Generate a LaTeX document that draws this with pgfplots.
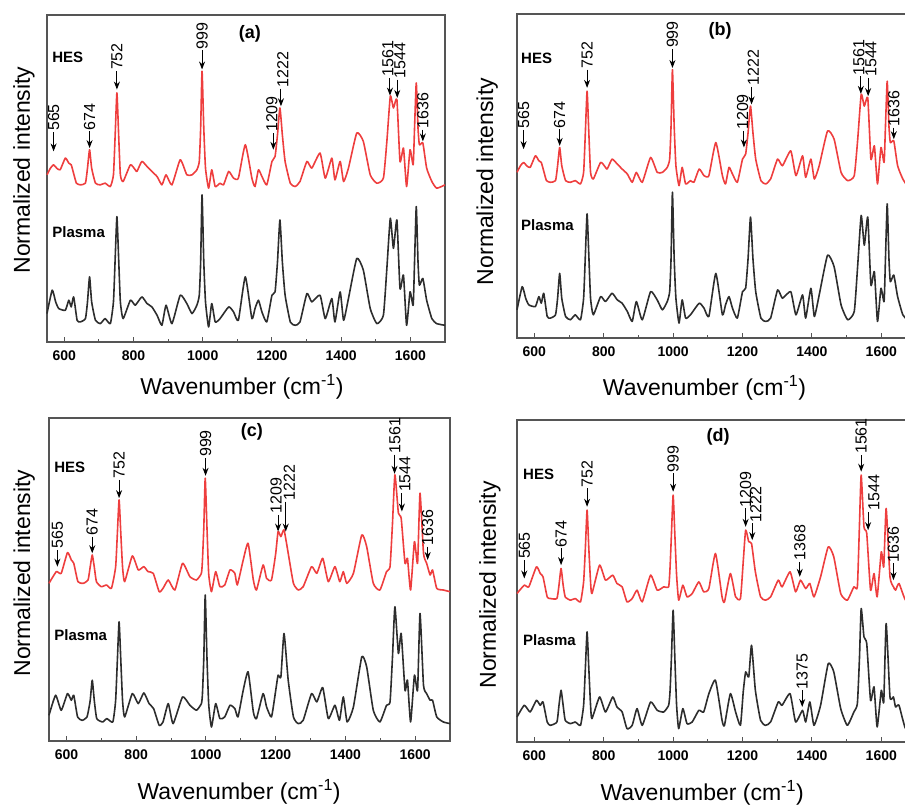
\documentclass[border=0pt]{standalone}
\usepackage{pgfplots}
\pgfplotsset{compat=1.18}
\usepackage{pgfplotstable}
\usepackage{fontspec}
\setmainfont{Liberation Sans}
\usetikzlibrary{arrows.meta}

\definecolor{hesred}{RGB}{238,62,62}
\definecolor{plgray}{RGB}{45,45,45}
\definecolor{framegray}{RGB}{85,85,85}

% HES and plasma spectra, panels (a) and (b)
\pgfplotstableread{
x y
550 500
560 520
569 530
578 520
588 515
603 550
613 535
620 530
628 500
635 475
646 470
661 475
667 520
673 575
679 520
690 475
704 470
718 475
733 465
742 500
747 620
752 745
757 620
762 500
770 480
791 530
805 515
810 510
824 540
839 525
853 510
868 495
882 470
894 500
911 470
935 545
954 500
969 500
983 515
990 540
994 640
998 810
1003 640
1008 520
1017 460
1026 515
1036 465
1050 475
1060 470
1075 510
1089 490
1103 490
1123 590
1142 490
1151 465
1161 515
1171 495
1185 470
1200 540
1209 555
1216 620
1223 700
1230 620
1238 540
1253 475
1267 465
1281 480
1301 540
1315 520
1339 565
1354 490
1373 550
1382 485
1397 540
1407 480
1421 520
1445 625
1464 600
1484 500
1503 475
1522 490
1532 600
1542 735
1551 700
1561 725
1570 540
1580 580
1589 465
1599 575
1608 530
1612 640
1617 775
1622 640
1626 590
1636 595
1647 520
1662 480
1676 460
1700 470
}\hesA
\pgfplotstableread{
x y
550 85
565 155
575 120
584 100
603 95
613 125
620 105
627 135
637 65
646 60
661 70
667 120
673 195
679 120
690 65
704 55
718 70
733 55
742 120
747 250
752 375
757 250
762 120
770 70
791 125
805 110
824 135
839 115
853 105
868 80
882 50
894 110
911 55
935 140
954 115
969 85
983 110
990 140
994 240
998 440
1003 240
1008 120
1017 45
1026 115
1036 60
1050 70
1075 105
1089 90
1103 65
1123 195
1142 70
1151 100
1161 125
1171 90
1185 60
1200 140
1209 150
1216 240
1223 365
1230 240
1238 140
1253 60
1267 50
1281 60
1301 145
1315 120
1339 140
1354 70
1373 130
1382 60
1397 150
1407 65
1421 130
1445 250
1464 215
1484 100
1503 55
1522 80
1532 220
1542 370
1551 280
1561 365
1570 160
1580 200
1589 50
1599 150
1608 110
1612 240
1617 405
1622 240
1626 170
1636 190
1647 125
1662 70
1676 55
1700 50
}\plA

% panel (c)
\pgfplotstableread{
x y
550 472
571 507
585 502
603 564
614 542
621 532
633 477
648 472
662 482
668 520
674 557
680 520
686 477
700 462
715 467
729 457
741 520
746 620
751 722
756 620
761 520
767 477
789 554
806 512
822 522
834 507
849 502
866 447
877 457
892 482
911 452
933 532
954 492
973 482
987 502
990 540
994 640
998 787
1003 640
1008 500
1016 447
1028 507
1040 462
1054 467
1069 512
1083 502
1090 467
1107 542
1121 592
1136 482
1145 452
1164 527
1174 487
1188 482
1200 560
1207 627
1215 612
1224 632
1236 562
1251 472
1265 452
1279 462
1303 522
1318 502
1335 547
1351 477
1370 522
1384 477
1394 507
1404 472
1423 502
1447 617
1461 582
1480 472
1499 452
1518 507
1528 522
1535 650
1542 797
1552 682
1560 667
1571 532
1578 547
1587 452
1598 597
1607 532
1614 742
1624 562
1633 532
1643 497
1650 512
1662 457
1681 452
1700 447
}\hesC
\pgfplotstableread{
x y
550 77
569 137
585 92
603 142
614 122
621 137
632 72
645 62
659 72
668 120
674 182
680 120
687 67
704 57
716 67
733 57
741 120
746 240
751 357
756 240
761 120
767 72
789 142
806 112
822 144
837 112
850 97
866 47
877 57
892 112
906 52
933 132
954 107
973 92
987 112
990 140
994 250
998 437
1003 250
1008 110
1016 42
1028 112
1040 67
1054 72
1069 107
1083 97
1092 72
1107 152
1121 207
1136 87
1145 67
1164 142
1174 102
1188 72
1200 150
1207 197
1215 192
1224 322
1236 182
1251 72
1265 52
1279 62
1303 142
1318 117
1335 160
1351 67
1370 107
1383 62
1394 132
1405 57
1423 102
1447 252
1461 222
1480 92
1499 57
1518 107
1528 117
1535 250
1542 402
1552 262
1560 322
1571 152
1578 182
1587 57
1598 197
1607 152
1614 382
1624 167
1633 142
1643 122
1650 122
1662 72
1681 57
1700 52
}\plC

% panel (d)
\pgfplotstableread{
x y
550 445
571 470
584 465
606 525
617 505
625 495
637 435
646 430
665 430
671 470
677 520
683 470
689 435
704 425
718 430
733 420
742 480
747 580
752 695
757 580
762 480
766 445
788 530
805 485
826 500
838 475
853 465
867 420
882 430
896 455
911 420
935 500
954 455
973 465
987 465
991 520
995 620
1000 740
1005 620
1010 500
1016 425
1028 470
1040 435
1055 445
1074 480
1088 450
1103 460
1122 565
1141 435
1148 420
1165 505
1180 435
1194 430
1202 540
1209 635
1218 600
1226 595
1237 510
1252 435
1266 425
1281 435
1303 485
1314 465
1337 510
1353 450
1367 485
1382 460
1394 475
1406 435
1425 495
1447 585
1463 555
1483 445
1502 425
1521 465
1531 465
1537 650
1542 800
1550 645
1558 625
1569 455
1579 505
1588 435
1600 570
1607 525
1614 700
1625 495
1635 465
1641 455
1651 475
1670 425
1700 420
}\hesD
\pgfplotstableread{
x y
550 75
571 110
588 90
606 125
617 110
625 120
637 60
646 50
665 60
671 110
677 155
683 110
689 65
704 55
718 60
733 50
742 110
747 220
752 330
757 220
762 110
766 70
788 135
805 90
826 135
838 105
853 90
867 40
882 50
896 100
911 50
935 120
954 95
973 90
987 110
991 150
995 250
1000 395
1005 250
1010 110
1016 40
1028 100
1040 55
1055 60
1074 95
1088 90
1103 145
1122 185
1141 65
1148 50
1165 145
1180 90
1194 50
1202 150
1209 210
1218 195
1226 290
1237 155
1252 65
1266 50
1281 60
1303 120
1314 110
1337 145
1353 60
1373 95
1382 60
1394 120
1406 50
1425 110
1447 235
1463 210
1483 100
1502 50
1521 90
1531 115
1537 250
1542 400
1550 315
1558 295
1569 125
1579 165
1588 45
1600 155
1607 120
1614 355
1625 135
1635 135
1641 105
1651 110
1670 40
1700 40
}\plD

\pgfplotsset{
  panel/.style={
    scale only axis, xmin=550, xmax=1700, ymin=0,
    xtick={600,800,...,1600}, minor xtick={700,900,...,1500},
    ytick=\empty, tick pos=bottom, tick align=inside,
    major tick length=5pt, minor tick length=3pt,
    every tick/.style={framegray, line width=1pt},
    axis line style={framegray, line width=1.3pt},
    xticklabel style={font=\bfseries\fontsize{14}{14}\selectfont, yshift=-5pt},
    /pgf/number format/assume math mode=true,
    /pgf/number format/1000 sep={},
    label style={font=\fontsize{23}{23}\selectfont},
    xlabel={Wavenumber (cm\textsuperscript{-1})},
    ylabel={Normalized intensity},
    clip=false,
  },
  hes/.style={hesred, line width=1.6pt, line join=round, smooth, tension=0.3},
  pl/.style={plgray, line width=1.6pt, line join=round, smooth, tension=0.3},
}

\newcommand\pkfont{\fontsize{16}{16}\selectfont}
\newcommand\tagfont{\bfseries\fontsize{15}{15}\selectfont}
\newcommand\panelfont{\bfseries\fontsize{18}{18}\selectfont}
% arrow x, tip y, start y, label, label x
\newcommand\pk[5]{%
  \draw[-{Stealth[length=8pt,width=6pt]}, line width=1pt] (axis cs:#1,#3) -- (axis cs:#1,#2);
  \node[rotate=90, anchor=west, inner sep=1pt, font=\pkfont] at (axis cs:#5,#3) {#4};}
\newcommand\peaksAB{%
  \pk{569}{570}{628}{565}{569}
  \pk{673}{580}{630}{674}{673}
  \pk{752}{755}{810}{752}{752}
  \pk{998}{815}{872}{999}{998}
  \pk{1204}{575}{625}{1209}{1200}
  \pk{1226}{705}{758}{1222}{1231}
  \pk{1541}{737}{790}{1561}{1535}
  \pk{1562}{730}{785}{1544}{1570}
  \pk{1636}{600}{635}{1636}{1636}}

\begin{document}
\begin{tikzpicture}
\path[use as bounding box] (0pt,0pt) rectangle (905pt,804pt);

% (a)
\begin{axis}[panel, at={(47pt,462pt)}, anchor=south west,
  width=398pt, height=327pt, ymax=978,
  xlabel style={at={(axis description cs:0.49,-0.138)}, anchor=center},
  ylabel style={at={(axis description cs:-0.058,0.526)}, anchor=center}]
\addplot[hes] table {\hesA};
\addplot[pl] table {\plA};
\peaksAB
\node[anchor=west, inner sep=0pt, font=\tagfont] at (rel axis cs:0.013,0.872) {HES};
\node[anchor=west, inner sep=0pt, font=\tagfont] at (rel axis cs:0.013,0.336) {Plasma};
\node[font=\panelfont] at (rel axis cs:0.51,0.942) {(a)};
\end{axis}

% (b)
\begin{axis}[panel, at={(517pt,466pt)}, anchor=south west,
  width=399pt, height=324pt, ymax=978,
  xlabel style={at={(axis description cs:0.47,-0.155)}, anchor=center},
  ylabel style={at={(axis description cs:-0.075,0.483)}, anchor=center}]
\addplot[hes] table {\hesA};
\addplot[pl] table {\plA};
\peaksAB
\node[anchor=west, inner sep=0pt, font=\tagfont] at (rel axis cs:0.01,0.864) {HES};
\node[anchor=west, inner sep=0pt, font=\tagfont] at (rel axis cs:0.01,0.347) {Plasma};
\node[font=\panelfont] at (rel axis cs:0.509,0.947) {(b)};
\end{axis}

% (c)
\begin{axis}[panel, at={(49pt,63pt)}, anchor=south west,
  width=401pt, height=323pt, ymax=967,
  xlabel style={at={(axis description cs:0.474,-0.158)}, anchor=center},
  ylabel style={at={(axis description cs:-0.062,0.52)}, anchor=center}]
\addplot[hes] table {\hesC};
\addplot[pl] table {\plC};
\pk{574}{522}{572}{565}{574}
\pk{674}{562}{612}{674}{674}
\pk{751}{727}{782}{752}{751}
\pk{999}{794}{847}{999}{999}
\pk{1207}{627}{677}{1209}{1201}
\pk{1229}{627}{717}{1222}{1239}
\pk{1541}{800}{857}{1561}{1542}
\pk{1562}{687}{742}{1544}{1571}
\pk{1636}{542}{582}{1636}{1636}
\node[anchor=west, inner sep=0pt, font=\tagfont] at (rel axis cs:0.013,0.848) {HES};
\node[anchor=west, inner sep=0pt, font=\tagfont] at (rel axis cs:0.013,0.328) {Plasma};
\node[font=\panelfont] at (rel axis cs:0.506,0.957) {(c)};
\end{axis}

% (d)
\begin{axis}[panel, at={(517pt,62pt)}, anchor=south west,
  width=399pt, height=322pt, ymax=965,
  xlabel style={at={(axis description cs:0.464,-0.158)}, anchor=center},
  ylabel style={at={(axis description cs:-0.068,0.488)}, anchor=center}]
\addplot[hes] table {\hesD};
\addplot[pl] table {\plD};
\pk{571}{490}{545}{565}{571}
\pk{677}{530}{580}{674}{677}
\pk{752}{705}{760}{752}{752}
\pk{1000}{750}{805}{999}{1000}
\pk{1209}{645}{700}{1209}{1209}
\pk{1228}{605}{655}{1222}{1238}
\pk{1365}{495}{540}{1368}{1365}
\pk{1542}{810}{860}{1561}{1542}
\pk{1562}{635}{690}{1544}{1579}
\pk{1635}{485}{535}{1636}{1635}
\pk{1372}{105}{155}{1375}{1372}
\node[anchor=west, inner sep=0pt, font=\tagfont] at (rel axis cs:0.015,0.832) {HES};
\node[anchor=west, inner sep=0pt, font=\tagfont] at (rel axis cs:0.015,0.317) {Plasma};
\node[font=\panelfont] at (rel axis cs:0.504,0.947) {(d)};
\end{axis}
\end{tikzpicture}
\end{document}
